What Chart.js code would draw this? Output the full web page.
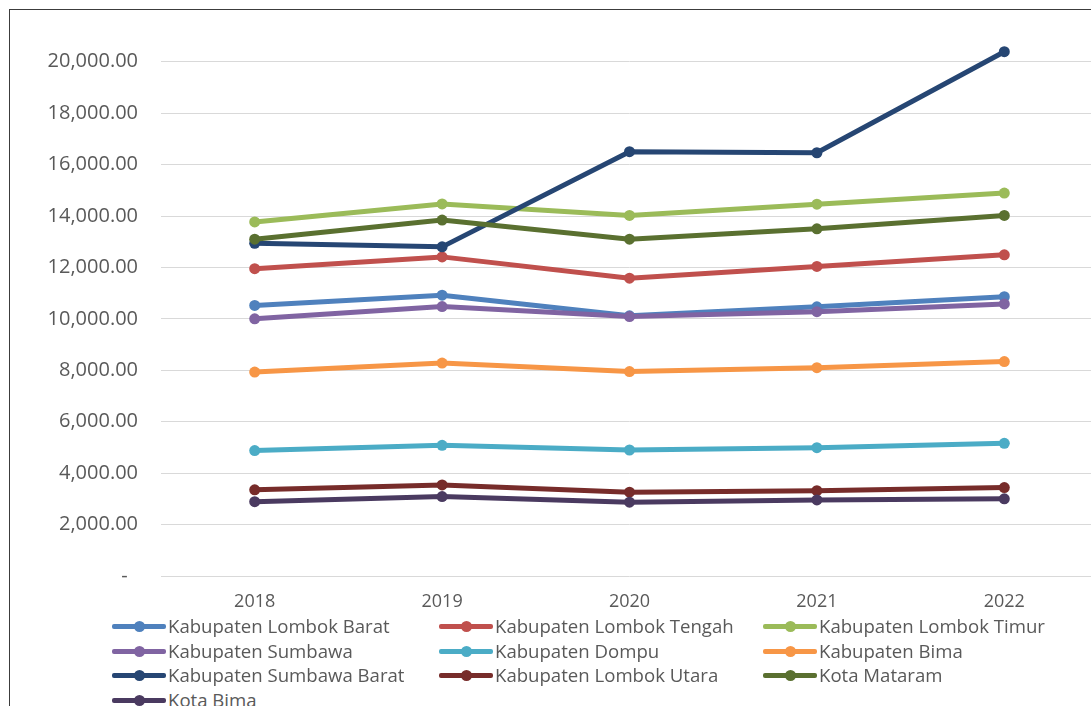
<!DOCTYPE html>
<html>
<head>
<meta charset="utf-8">
<script src="https://cdn.jsdelivr.net/npm/chart.js@4"></script>
<style>
    html, body { margin: 0; padding: 0; background: #fff; overflow: hidden; width: 1091px; height: 706px; }
    .frame { position: absolute; left: 9px; top: 9px; width: 1150px; height: 760px; border: 1px solid #3c3c3c; background: #fff; }
    .chart-box { position: absolute; left: 0; top: 0; width: 1150px; height: 620px; }
    .legend { position: absolute; left: 102px; top: 604px; width: 1000px; font-family: "Open Sans", sans-serif; font-size: 18.6px; color: #595959; }
    .legend .item { position: absolute; height: 24px; line-height: 24px; white-space: nowrap; }
    .legend .sym { position: absolute; left: 0; top: 10px; width: 54px; height: 5px; border-radius: 2px; }
    .legend .dot { position: absolute; left: 22px; top: -3px; width: 11px; height: 11px; border-radius: 50%; }
    .legend .txt { position: absolute; left: 56px; top: 0; }
</style>
</head>
<body>
<div class="frame">
    <div class="chart-box"><canvas id="lineChart"></canvas></div>
    <div class="legend" id="legend"></div>
</div>
<script>
const years = ['2018', '2019', '2020', '2021', '2022'];
const yTicks = [0, 2000, 4000, 6000, 8000, 10000, 12000, 14000, 16000, 18000, 20000];

const lombokBarat = [10520, 10920, 10120, 10470, 10860];
const lombokTengah = [11950, 12410, 11580, 12040, 12490];
const lombokTimur = [13770, 14470, 14020, 14460, 14890];
const sumbawa = [10000, 10480, 10090, 10280, 10580];
const dompu = [4880, 5080, 4900, 4990, 5160];
const bima = [7930, 8280, 7950, 8100, 8340];
const sumbawaBarat = [12940, 12800, 16500, 16460, 20390];
const lombokUtara = [3350, 3540, 3260, 3320, 3440];
const kotaMataram = [13100, 13840, 13100, 13500, 14020];
const kotaBima = [2890, 3090, 2870, 2960, 3000];

const series = [
    { label: 'Kabupaten Lombok Barat', data: lombokBarat, color: '#4F81BD' },
    { label: 'Kabupaten Lombok Tengah', data: lombokTengah, color: '#C0504D' },
    { label: 'Kabupaten Lombok Timur', data: lombokTimur, color: '#9BBB59' },
    { label: 'Kabupaten Sumbawa', data: sumbawa, color: '#8064A2' },
    { label: 'Kabupaten Dompu', data: dompu, color: '#4BACC6' },
    { label: 'Kabupaten Bima', data: bima, color: '#F79646' },
    { label: 'Kabupaten Sumbawa Barat', data: sumbawaBarat, color: '#264673' },
    { label: 'Kabupaten Lombok Utara', data: lombokUtara, color: '#772C2A' },
    { label: 'Kota Mataram', data: kotaMataram, color: '#5A7030' },
    { label: 'Kota Bima', data: kotaBima, color: '#4A3A60' }
];

const textColor = '#595959';

new Chart(document.getElementById('lineChart').getContext('2d'), {
    type: 'line',
    data: {
        labels: years,
        datasets: series.map((s, i) => ({
            label: s.label,
            data: s.data,
            borderColor: s.color,
            backgroundColor: s.color,
            borderWidth: 5,
            pointRadius: 5.5,
            pointHoverRadius: 5.5,
            pointBorderWidth: 0,
            tension: 0,
            order: series.length - i   // later series on top, like Excel
        }))
    },
    options: {
        responsive: true,
        maintainAspectRatio: false,
        animation: false,
        layout: { padding: { top: 26, right: 62, left: 0, bottom: 0 } },
        plugins: {
            legend: { display: false },
            tooltip: { enabled: false }
        },
        scales: {
            x: {
                offset: true,
                grid: { display: false, drawTicks: false },
                border: { display: false },
                ticks: { color: textColor, font: { family: 'Open Sans', size: 18 }, padding: 15 },
                afterFit: function(scale) { scale.height = 54; }
            },
            y: {
                min: 0,
                max: 21000,
                grid: { color: '#D9D9D9', lineWidth: 1, drawTicks: false },
                border: { display: false },
                afterBuildTicks: function(scale) {
                    scale.ticks = yTicks.map(v => ({ value: v }));
                },
                afterFit: function(scale) {
                    scale.width = 151;
                    // top tick is not at the edge, so no label overflow padding
                    scale.paddingTop = 0;
                    scale.paddingBottom = 0;
                },
                ticks: {
                    color: textColor,
                    font: { family: 'Open Sans', size: 20 },
                    padding: 23,
                    callback: function(value) {
                        if (value === 0) return '-  ';
                        return value.toLocaleString('en-US', { minimumFractionDigits: 2, maximumFractionDigits: 2 });
                    }
                }
            }
        }
    }
});

// legend in three columns, like the Excel one
const legendEl = document.getElementById('legend');
const colX = [0, 327, 651];
series.forEach((s, i) => {
    const item = document.createElement('div');
    item.className = 'item';
    item.style.left = colX[i % 3] + 'px';
    item.style.top = (Math.floor(i / 3) * 24.5) + 'px';
    item.innerHTML = '<span class="sym" style="background:' + s.color + '"><span class="dot" style="background:' + s.color + '"></span></span><span class="txt">' + s.label + '</span>';
    legendEl.appendChild(item);
});
</script>
</body>
</html>
